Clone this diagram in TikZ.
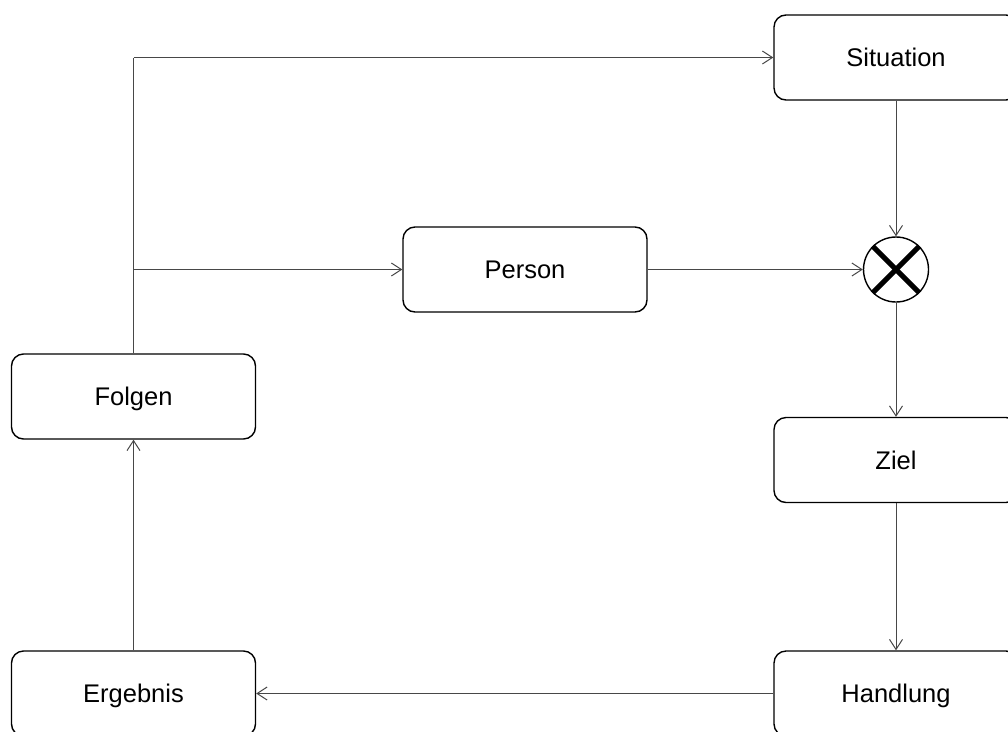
\documentclass[tikz,border=0pt]{standalone}
\usepackage{fontspec}
\setmainfont{Liberation Sans}
\usetikzlibrary{arrows.meta}
\tikzset{
  block/.style={draw=black, line width=1.4pt, rounded corners=12pt, fill=white,
    minimum width=244pt, minimum height=85pt, inner sep=0pt,
    text height=18pt, text depth=0pt,
    font=\fontsize{25.5}{30}\selectfont},
  link/.style={draw=black!72, line width=1pt,
    -{Straight Barb[length=10pt,width=13pt,line width=1pt]}},
  plain/.style={draw=black!72, line width=1pt},
}
\begin{document}
\begin{tikzpicture}[x=1pt,y=-1pt]
  \useasboundingbox (0,0) rectangle (1008,731);
  \clip (0,0) rectangle (1008,731);
  % process blocks
  \node[block] (sit)  at (896,57.5)  {Situation};
  \node[block] (pers) at (525,269.5) {Person};
  \node[block] (folg) at (133.5,396.5) {Folgen};
  \node[block] (ziel) at (896,460)  {Ziel};
  \node[block] (erg)  at (133.5,693.5) {Ergebnis};
  \node[block] (hand) at (896,693.5) {Handlung};
  % multiplication junction
  \node[circle, draw=black, line width=1.4pt, minimum size=65pt, inner sep=0pt] (mul) at (896,269.5) {};
  \draw[line width=5pt] (mul.north west) -- (mul.south east);
  \draw[line width=5pt] (mul.north east) -- (mul.south west);
  % feedback paths
  \coordinate (top) at (folg.north |- sit.west);
  \coordinate (tap) at (folg.north |- pers.west);
  \draw[plain] (folg.north) -- (top);
  \draw[link] (top) -- (sit.west);
  \draw[link] (tap) -- (pers.west);
  \draw[link] (pers.east) -- (mul.west);
  \draw[link] (sit.south) -- (mul.north);
  \draw[link] (mul.south) -- (ziel.north);
  \draw[link] (ziel.south) -- (hand.north);
  \draw[link] (hand.west) -- (erg.east);
  \draw[link] (erg.north) -- (folg.south);
\end{tikzpicture}
\end{document}
